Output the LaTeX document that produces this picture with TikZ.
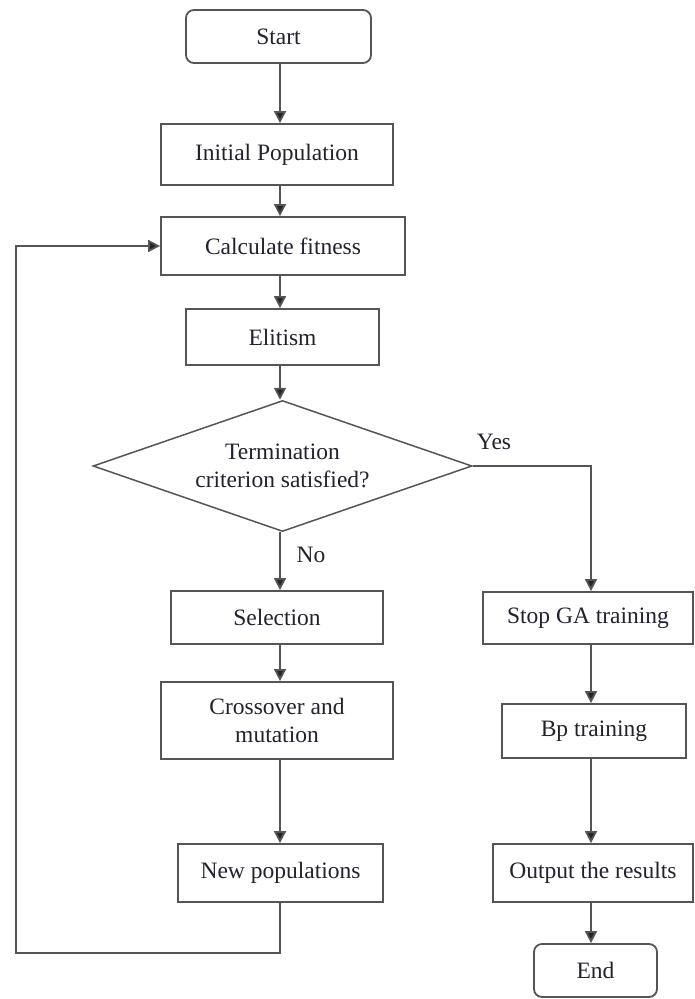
\documentclass[tikz,border=0pt]{standalone}
\usepackage{fontspec}
\setmainfont{Liberation Serif}
\usetikzlibrary{shapes.geometric,arrows.meta}
\definecolor{linec}{HTML}{555555}
\definecolor{textc}{HTML}{22222E}
\begin{document}
\begin{tikzpicture}[x=1pt,y=-1pt,
  every node/.style={font=\fontsize{23.5}{28}\selectfont, text=textc},
  box/.style={draw=linec, line width=1.8pt, rectangle, inner sep=0pt, align=center},
  term/.style={box, rounded corners=8pt},
  decision/.style={draw=linec, line width=1.5pt, diamond, shape aspect=2.9, inner sep=0pt, align=center},
  conn/.style={draw=linec, line width=1.8pt},
  arr/.style={conn, -{Triangle[length=12pt,width=12pt,fill=black!85]}},
  lbl/.style={inner sep=0pt}
]
\useasboundingbox (0,0) rectangle (695,999);
\coordinate (axL) at (280,0);
\coordinate (axR) at (591,0);
\coordinate (lb) at (16,953);

\node[term, minimum width=185pt, minimum height=53pt] (start) at (278.5,36.5) {Start};
\node[box, minimum width=232pt, minimum height=61pt] (init) at (277,154.5) {Initial Population};
\node[box, minimum width=244pt, minimum height=58pt] (calc) at (283,246) {Calculate fitness};
\node[box, minimum width=193pt, minimum height=56pt] (elit) at (282.5,337) {Elitism};
\node[decision, minimum width=379pt, minimum height=131pt] (dia) at (282.5,466) {Termination\\criterion satisfied?};
\node[box, minimum width=212pt, minimum height=53pt] (sel) at (277,617.5) {Selection};
\node[box, minimum width=232pt, minimum height=77pt] (cross) at (277,720.5) {Crossover and\\mutation};
\node[box, minimum width=205pt, minimum height=58pt] (newp) at (280.5,873) {New populations};
\node[box, minimum width=210pt, minimum height=52pt] (stop) at (588,618) {Stop GA training};
\node[box, minimum width=184pt, minimum height=54pt] (bp) at (594,731) {Bp training};
\node[box, minimum width=200pt, minimum height=58pt] (out) at (593,873) {Output the results};
\node[term, minimum width=123pt, minimum height=53pt] (end) at (595.5,970.5) {End};

\node[lbl] (yes) at (494,442) {Yes};
\node[lbl] (no) at (311,555) {No};

\draw[arr] (start.south -| axL) -- (init.north -| axL);
\draw[arr] (init.south -| axL) -- (calc.north -| axL);
\draw[arr] (calc.south -| axL) -- (elit.north -| axL);
\draw[arr] (elit.south -| axL) -- (dia.north -| axL);
\draw[arr] (dia.south -| axL) -- (sel.north -| axL);
\draw[arr] (sel.south -| axL) -- (cross.north -| axL);
\draw[arr] (cross.south -| axL) -- (newp.north -| axL);
\draw[arr] (newp.south -| axL) |- (lb) |- (calc.west);
\draw[arr] (dia.east) -- (dia.east -| axR) -- (stop.north -| axR);
\draw[arr] (stop.south -| axR) -- (bp.north -| axR);
\draw[arr] (bp.south -| axR) -- (out.north -| axR);
\draw[arr] (out.south -| axR) -- (end.north -| axR);
\end{tikzpicture}
\end{document}
